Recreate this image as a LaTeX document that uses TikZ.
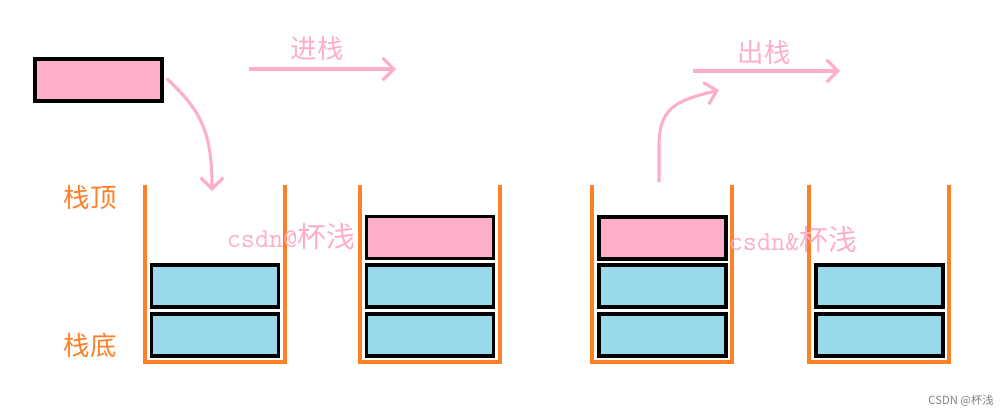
\documentclass[tikz,border=0pt]{standalone}
\usepackage{fontspec}
\setmainfont{Liberation Serif}
\newfontfamily\cjk{Noto Sans CJK SC}
\usepackage{tikz}
\usetikzlibrary{positioning, arrows.meta}
\usepackage{xcolor}
\definecolor{PaintPink}{RGB}{255,174,201}
\definecolor{PaintBlue}{RGB}{153,217,234}
\definecolor{PaintOrange}{RGB}{255,127,39}

\begin{document}
\begin{tikzpicture}[x=0.025cm, y=-0.025cm]
        \tikzstyle{block} = [rectangle, draw=black, line width=2.8pt,
          minimum width=3.175cm, minimum height=1.05cm, inner sep=0pt]
        \tikzstyle{pushed} = [block, fill=PaintPink]
        \tikzstyle{stored} = [block, fill=PaintBlue]
        \tikzstyle{move} = [draw=PaintPink, line width=2.2pt,
          -{Straight Barb[length=8pt, width=16pt, line width=2.2pt]}]
        \tikzstyle{title} = [text=PaintPink, font=\cjk\fontsize{18.8}{20}\selectfont]
        \tikzstyle{side} = [text=PaintOrange, font=\cjk\fontsize{18.8}{20}\selectfont]
        \tikzstyle{wmark} = [text=PaintPink, inner sep=0pt]

        \useasboundingbox (0,0) rectangle (1006,417);

        % the stacks
        \foreach \x in {145,360,592,809}
          \draw[PaintOrange, line width=2.4pt] (\x,185) -- (\x,362) -- (\x+140,362) -- (\x+140,185);

        % element waiting to be pushed
        \node[pushed] (new) at (98.5,80) {};

        \foreach \x/\n in {215/a,430/b,662.5/c,879.5/d} {
          \node[stored] (\n1) at (\x,335) {};
          \node[stored] (\n2) at (\x,286) {};
        }
        \node[pushed] (b3) at (430,237.5) {};
        \node[pushed] (c3) at (662.5,238) {};

        % labels
        \node[side] (top) at (90,197) {栈顶};
        \node[side] (bottom) at (90,345) {栈底};
        \node[title] (pushtxt) at (317,48) {进栈};
        \node[title] (poptxt) at (764,52) {出栈};

        \coordinate (pushA) at (249,69);
        \coordinate (pushB) at (396,69);
        \coordinate (popA) at (693,71);
        \coordinate (popB) at (840,71);
        \coordinate (inEnd) at (212,191);
        \coordinate (outStart) at (659,182);
        \coordinate (outEnd) at (719,90);

        \draw[move] (pushA) -- (pushB);
        \draw[move] (popA) -- (popB);
        \draw[move] ([xshift=2pt,yshift=1pt]new.east) .. controls (200,110) and (212,130) .. (inEnd);
        \draw[move] (outStart) -- (659,145) .. controls (659,105) and (680,100) .. (outEnd);

        % watermarks
        \node[wmark] (wm1) at (291,237) {\fontsize{19.5}{22}\ttfamily csdn@{\cjk\fontsize{20.5}{22}\selectfont 杯浅}};
        \node[wmark] (wm2) at (793,240) {\fontsize{19.5}{22}\ttfamily csdn\&{\cjk\fontsize{20.5}{22}\selectfont 杯浅}};
        \node[text=gray, font=\cjk\fontsize{8}{9}\selectfont] (wm3) at (961,401) {CSDN @杯浅};
      \end{tikzpicture}
\end{document}
